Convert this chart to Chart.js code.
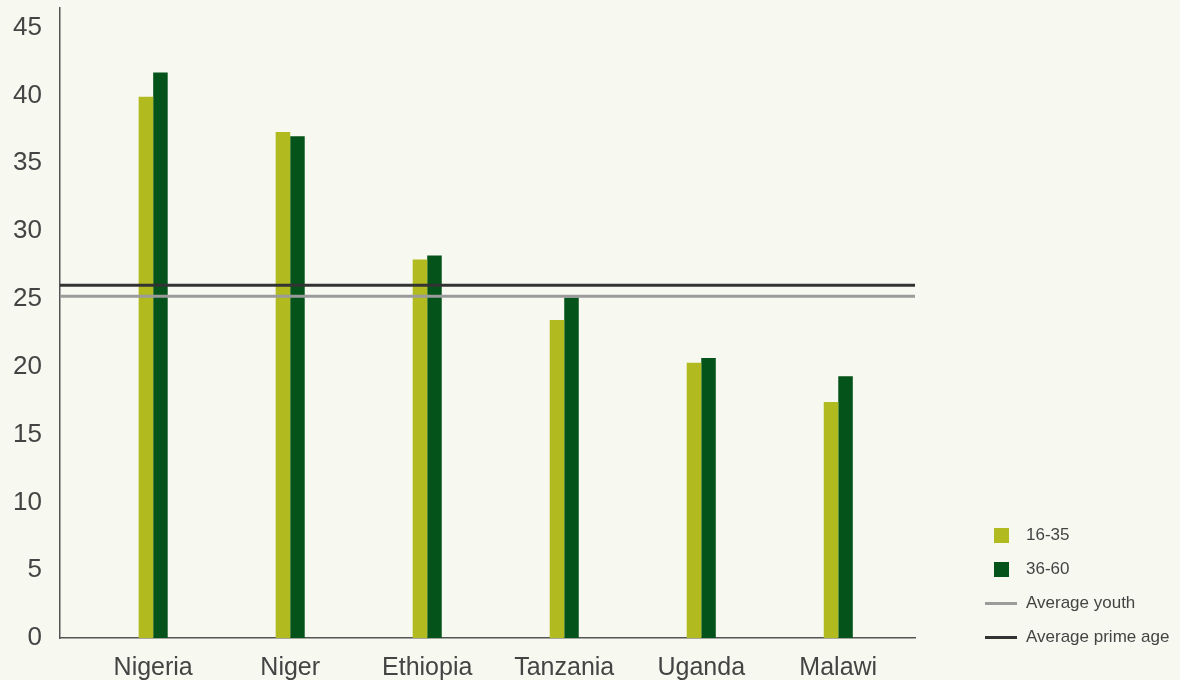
<!DOCTYPE html>
<html>
<head>
<meta charset="utf-8">
<script src="https://cdn.jsdelivr.net/npm/chart.js@4.4.1/dist/chart.umd.min.js"></script>
<style>
  html, body { margin: 0; padding: 0; background: #f7f8f0; }
  #wrap { position: relative; width: 1180px; height: 680px; }
  #legend { position: absolute; left: 985px; top: 518px; font-family: "Liberation Sans", Arial, sans-serif;
            font-size: 17px; color: #444; }
  .item { display: flex; align-items: center; height: 34px; }
  .key { width: 32px; display: flex; justify-content: center; margin-right: 9px; }
</style>
</head>
<body>
<div id="wrap">
  <canvas id="chart" width="1180" height="680"></canvas>
  <div id="legend"></div>
</div>
<script>
const countries = ['Nigeria', 'Niger', 'Ethiopia', 'Tanzania', 'Uganda', 'Malawi'];
const youth = [39.9, 37.3, 27.9, 23.45, 20.3, 17.4];
const primeAge = [41.7, 37.0, 28.2, 25.1, 20.65, 19.3];
const avgYouth = 25.2;
const avgPrime = 26.0;
const yTicks = [0, 5, 10, 15, 20, 25, 30, 35, 40, 45];

// x axis runs a bit past the outer countries on both sides
const X_MIN = -0.68;
const X_MAX = 5.56;

const LIGHT = '#b1bb1f';
const DARK = '#04531a';
const GREY = '#9b9b9b';
const BLACK = '#333333';
const TEXT = '#444444';

const toPoints = arr => arr.map((v, i) => ({ x: i, y: v }));

const ctx = document.getElementById('chart').getContext('2d');
const chart = new Chart(ctx, {
    type: 'bar',
    data: {
        datasets: [
            {
                label: '16-35',
                data: toPoints(youth),
                backgroundColor: LIGHT,
                categoryPercentage: 0.212,
                barPercentage: 1,
                order: 2,
            },
            {
                label: '36-60',
                data: toPoints(primeAge),
                backgroundColor: DARK,
                categoryPercentage: 0.212,
                barPercentage: 1,
                order: 2,
            },
            {
                type: 'line',
                label: 'Average youth',
                data: [{ x: X_MIN, y: avgYouth }, { x: X_MAX, y: avgYouth }],
                borderColor: GREY,
                borderWidth: 3,
                pointRadius: 0,
                order: 1,
            },
            {
                type: 'line',
                label: 'Average prime age',
                data: [{ x: X_MIN, y: avgPrime }, { x: X_MAX, y: avgPrime }],
                borderColor: BLACK,
                borderWidth: 3,
                pointRadius: 0,
                order: 1,
            },
        ],
    },
    options: {
        responsive: false,
        animation: false,
        layout: { padding: { top: 8, right: 265, left: 0, bottom: 0 } },
        plugins: {
            legend: { display: false },
            tooltip: { enabled: false },
        },
        scales: {
            x: {
                type: 'linear',
                offset: false,
                min: X_MIN,
                max: X_MAX,
                grid: { display: false, drawTicks: false },
                border: { color: '#555', width: 1.5 },
                afterBuildTicks: (scale) => {
                    scale.ticks = countries.map((_, i) => ({ value: i }));
                },
                afterFit: (scale) => {
                    scale.height = 42;
                    scale.paddingLeft = 0;
                    scale.paddingRight = 0;
                },
                ticks: {
                    autoSkip: false,
                    maxRotation: 0,
                    padding: 15,
                    color: TEXT,
                    font: { family: '"Liberation Sans", Arial, sans-serif', size: 25 },
                    callback: (value) => countries[value],
                },
            },
            y: {
                min: 0,
                max: 46.45,
                grid: { display: false, drawTicks: false },
                border: { color: '#555', width: 1.5 },
                afterBuildTicks: (scale) => {
                    scale.ticks = yTicks.map(v => ({ value: v }));
                },
                afterFit: (scale) => {
                    scale.width = 60;
                    scale.paddingTop = 0;
                    scale.paddingBottom = 0;
                },
                ticks: {
                    padding: 18,
                    color: TEXT,
                    font: { family: '"Liberation Sans", Arial, sans-serif', size: 26 },
                },
            },
        },
    },
});

// legend built from the datasets
const legend = document.getElementById('legend');
chart.data.datasets.forEach(ds => {
    const item = document.createElement('div');
    item.className = 'item';
    const key = document.createElement('span');
    key.className = 'key';
    const sw = document.createElement('span');
    if (ds.type === 'line') {
        sw.style.cssText = `display:block;width:32px;height:3px;background:${ds.borderColor}`;
    } else {
        sw.style.cssText = `display:block;width:15px;height:15px;background:${ds.backgroundColor}`;
    }
    key.appendChild(sw);
    const txt = document.createElement('span');
    txt.textContent = ds.label;
    item.appendChild(key);
    item.appendChild(txt);
    legend.appendChild(item);
});
</script>
</body>
</html>
